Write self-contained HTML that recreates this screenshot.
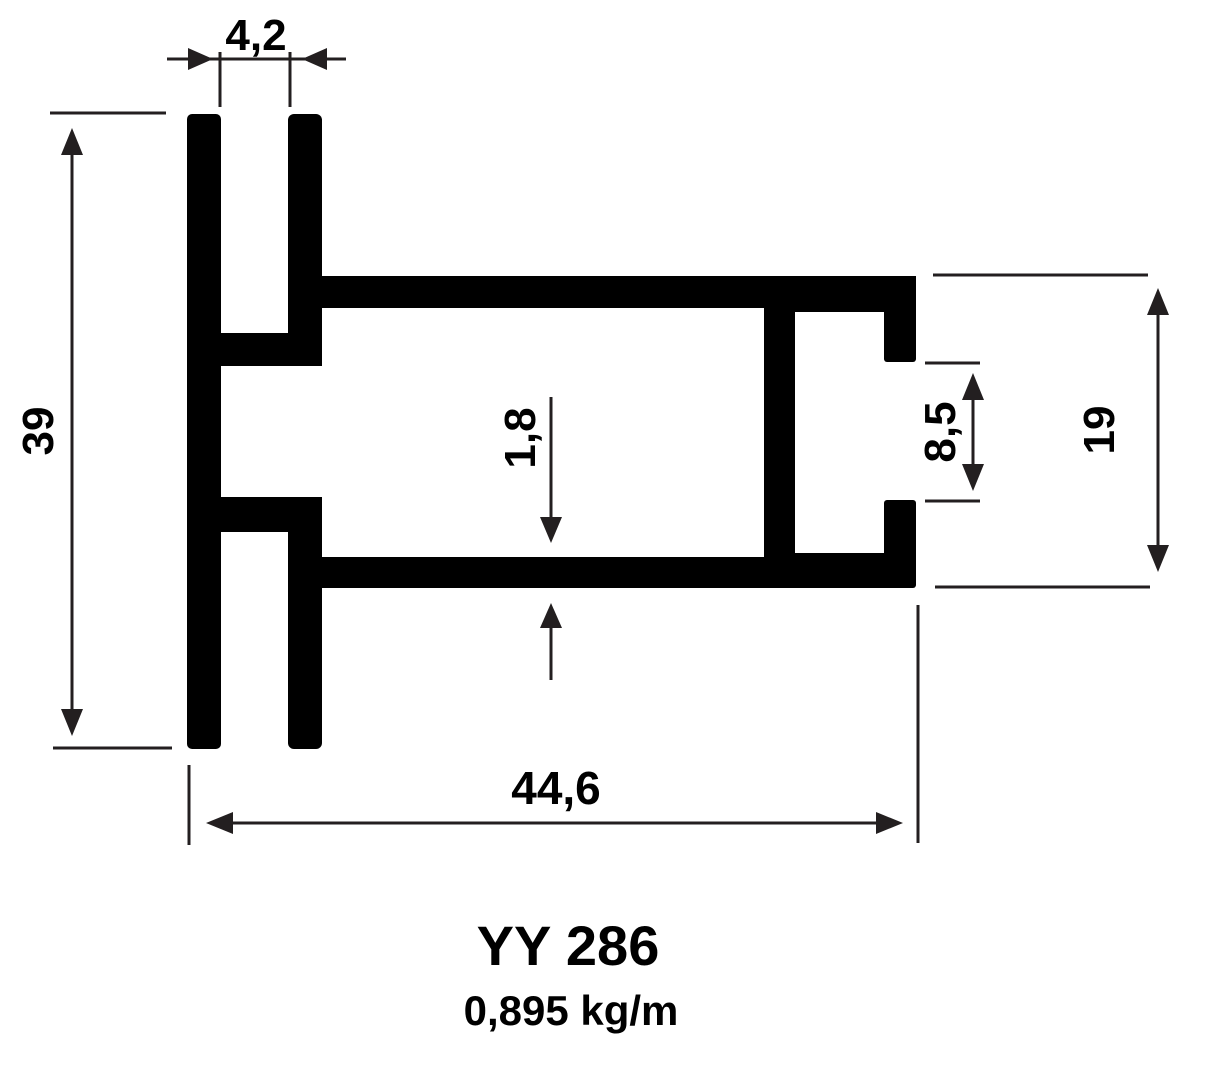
<!DOCTYPE html>
<html><head><meta charset="utf-8"><style>
html,body{margin:0;padding:0;background:#fff;}
svg{display:block;}
text{font-family:"Liberation Sans",sans-serif;font-weight:bold;fill:#000;}
</style></head><body>
<svg width="1208" height="1074" viewBox="0 0 1208 1074" xmlns="http://www.w3.org/2000/svg">
<rect width="1208" height="1074" fill="#fff"/>
<g fill="#000">
  <rect x="187" y="114" width="34" height="635" rx="5"/>
  <rect x="288" y="114" width="34" height="235" rx="6"/>
  <rect x="288" y="140" width="34" height="226"/>
  <rect x="210" y="333" width="112" height="33"/>
  <rect x="210" y="497" width="112" height="35"/>
  <rect x="288" y="497" width="34" height="252" rx="6"/>
  <rect x="288" y="497" width="34" height="230"/>
  <rect x="312" y="276" width="604" height="32"/>
  <rect x="312" y="557" width="604" height="31" rx="3"/>
  <rect x="764" y="300" width="31" height="265"/>
  <rect x="884" y="280" width="32" height="82" rx="3"/>
  <rect x="884" y="500" width="32" height="80" rx="3"/>
  <rect x="795" y="300" width="95" height="12"/>
  <rect x="795" y="553" width="95" height="8"/>
</g>
<path d="M797 312 H872 Q884 312 884 324 V362 H900 V500 H884 V540 Q884 550 872 553 H797 Z" fill="#fff"/>
<rect x="884" y="362" width="40" height="138" fill="#fff"/>

<g stroke="#231f20" stroke-width="3" fill="none">
  <line x1="167" y1="59" x2="346" y2="59"/>
  <line x1="220" y1="52" x2="220" y2="107"/>
  <line x1="290" y1="52" x2="290" y2="107"/>
  <line x1="50" y1="113" x2="166" y2="113"/>
  <line x1="53" y1="748" x2="172" y2="748"/>
  <line x1="72" y1="140" x2="72" y2="722"/>
  <line x1="933" y1="275" x2="1148" y2="275"/>
  <line x1="935" y1="587" x2="1150" y2="587"/>
  <line x1="1158" y1="300" x2="1158" y2="560"/>
  <line x1="925" y1="363" x2="980" y2="363"/>
  <line x1="925" y1="501" x2="980" y2="501"/>
  <line x1="973" y1="385" x2="973" y2="480"/>
  <line x1="551" y1="397" x2="551" y2="525"/>
  <line x1="551" y1="620" x2="551" y2="680"/>
  <line x1="189" y1="765" x2="189" y2="845"/>
  <line x1="918" y1="605" x2="918" y2="843"/>
  <line x1="220" y1="823" x2="890" y2="823"/>
</g>
<g fill="#231f20">
  <polygon points="213,59 188,48 188,70"/>
  <polygon points="302,59 327,48 327,70"/>
  <polygon points="72,128 61,155 83,155"/>
  <polygon points="72,736 61,709 83,709"/>
  <polygon points="1158,288 1147,315 1169,315"/>
  <polygon points="1158,572 1147,545 1169,545"/>
  <polygon points="973,373 962,400 984,400"/>
  <polygon points="973,491 962,464 984,464"/>
  <polygon points="551,543 540,517 562,517"/>
  <polygon points="551,603 540,628 562,628"/>
  <polygon points="206,823 233,812 233,834"/>
  <polygon points="903,823 876,812 876,834"/>
</g>
<text x="256" y="50" font-size="44" text-anchor="middle">4,2</text>
<text x="556" y="804" font-size="46" text-anchor="middle">44,6</text>
<text transform="translate(53,431) rotate(-90)" font-size="44" text-anchor="middle">39</text>
<text transform="translate(1114,430) rotate(-90)" font-size="44" text-anchor="middle">19</text>
<text transform="translate(955,432) rotate(-90)" font-size="44" text-anchor="middle">8,5</text>
<text transform="translate(535,438) rotate(-90)" font-size="44" text-anchor="middle">1,8</text>
<text x="568" y="965" font-size="56" text-anchor="middle">YY 286</text>
<text x="571" y="1025" font-size="42" text-anchor="middle">0,895 kg/m</text>
</svg>
</body></html>
